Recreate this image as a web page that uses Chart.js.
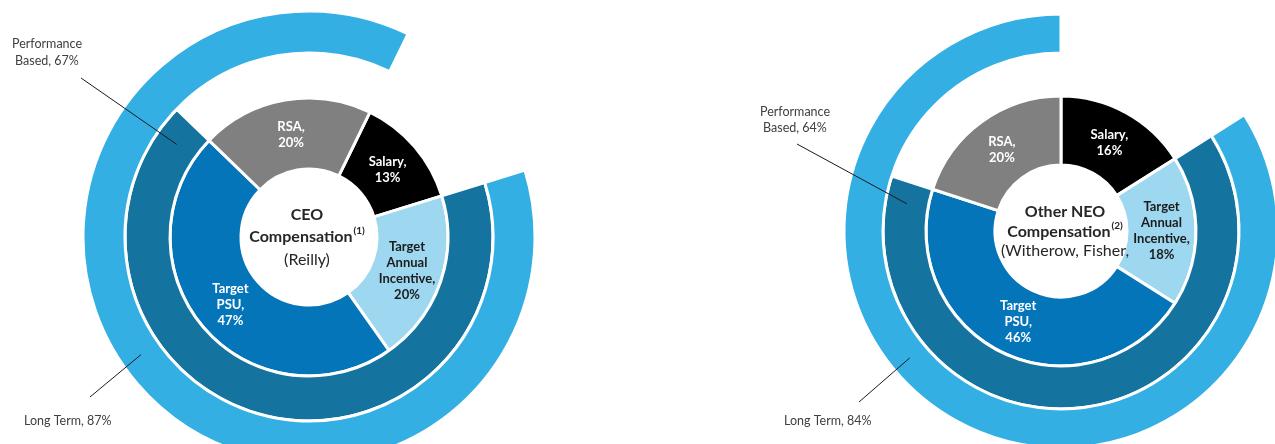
<!DOCTYPE html>
<html>
<head>
<meta charset="utf-8">
<script src="https://cdn.jsdelivr.net/npm/chart.js@4"></script>
<style>
  html, body { margin: 0; padding: 0; background: #fff; overflow: hidden; width: 1275px; height: 444px; }
  .wrap { position: absolute; top: 0; }
  #ceoWrap { left: 0; }
  #neoWrap { left: 640px; }
</style>
</head>
<body>
<div class="wrap" id="ceoWrap"><canvas id="ceo" width="620" height="470"></canvas></div>
<div class="wrap" id="neoWrap"><canvas id="neo" width="660" height="470"></canvas></div>
<script>
// pay mix, clockwise from the start of the salary slice
const segments = ['Salary', 'Target Annual Incentive', 'Target PSU', 'RSA'];
const segmentLines = [['Salary,'], ['Target', 'Annual', 'Incentive,'], ['Target', 'PSU,'], ['RSA,']];
const ceoMix = [13, 20, 47, 20];
const neoMix = [16, 18, 46, 20];
const ceoPerformance = 67;
const neoPerformance = 64;
const ceoLongTerm = 87;
const neoLongTerm = 84;

const mixColors = ['#000000', '#9dd7f0', '#0575ba', '#808080'];
const mixText = ['#ffffff', '#1c1c1c', '#ffffff', '#ffffff'];
const tealColor = '#14739f';
const longColor = '#33afe4';
const none = 'rgba(0,0,0,0)';

const ringText = {
  id: 'ringText',
  afterDatasetsDraw(chart, args, opts) {
    const ctx = chart.ctx;
    const area = chart.chartArea;
    const cx = (area.left + area.right) / 2;
    const cy = (area.top + area.bottom) / 2;
    ctx.save();
    ctx.textAlign = 'center';
    ctx.textBaseline = 'middle';

    // labels inside the pay mix ring
    const pie = chart.getDatasetMeta(2);
    const values = chart.data.datasets[2].data;
    ctx.font = 'bold 13px Lato';
    pie.data.forEach((arc, i) => {
      const p = arc.tooltipPosition();
      const lines = segmentLines[i].concat([values[i] + '%']);
      const lh = 16;
      ctx.fillStyle = mixText[i];
      lines.forEach((t, j) => {
        ctx.fillText(t, p.x, p.y + (j - (lines.length - 1) / 2) * lh);
      });
    });

    // title in the hole
    ctx.fillStyle = '#262626';
    opts.center.forEach(row => {
      ctx.font = (row.bold ? 'bold ' : '') + '16px Lato';
      const w = ctx.measureText(row.text).width;
      let sw = 0;
      if (row.sup) {
        ctx.font = 'bold 10px Lato';
        sw = ctx.measureText(row.sup).width + 1;
      }
      const x0 = cx + opts.centerDx - (w + sw) / 2;
      ctx.textAlign = 'left';
      ctx.font = (row.bold ? 'bold ' : '') + '16px Lato';
      ctx.fillText(row.text, x0, cy + row.dy);
      if (row.sup) {
        ctx.font = 'bold 10px Lato';
        ctx.fillText(row.sup, x0 + w + 1, cy + row.dy - 6);
      }
    });

    // callouts for the outer rings
    ctx.font = '12.5px Lato';
    opts.callouts.forEach(c => {
      const arc = chart.getDatasetMeta(c.ring).data[1];
      const r = (arc.innerRadius + arc.outerRadius) / 2;
      const a = c.angle * Math.PI / 180;
      ctx.strokeStyle = '#1a1a1a';
      ctx.lineWidth = 1;
      ctx.beginPath();
      ctx.moveTo(c.from[0], c.from[1]);
      ctx.lineTo(cx + r * Math.sin(a), cy - r * Math.cos(a));
      ctx.stroke();
      ctx.fillStyle = '#404040';
      ctx.textAlign = c.align;
      c.text.forEach((t, j) => ctx.fillText(t, c.x, c.y[j]));
    });
    ctx.restore();
  }
};

function makeChart(id, mix, performance, longTerm, cfg) {
  const salary = mix[0];
  return new Chart(document.getElementById(id), {
    type: 'doughnut',
    data: {
      labels: segments,
      datasets: [
        {
          label: 'Long Term',
          data: [salary, longTerm],
          backgroundColor: [none, longColor],
          borderColor: '#ffffff',
          borderWidth: [0, 3],
          weight: cfg.weights[0]
        },
        {
          label: 'Performance Based',
          data: [salary, performance, 100 - salary - performance],
          backgroundColor: [none, tealColor, none],
          borderColor: '#ffffff',
          borderWidth: [0, 3, 0],
          weight: cfg.weights[1]
        },
        {
          label: 'Pay Mix',
          data: mix,
          backgroundColor: mixColors,
          borderColor: '#ffffff',
          borderWidth: 3,
          weight: cfg.weights[2]
        }
      ]
    },
    options: {
      responsive: false,
      animation: false,
      events: [],
      rotation: cfg.rotation,
      radius: cfg.radius,
      cutout: (cfg.hole / cfg.radius * 100) + '%',
      layout: { padding: cfg.padding },
      plugins: {
        legend: { display: false },
        tooltip: { enabled: false },
        ringText: { center: cfg.center, centerDx: cfg.centerDx, callouts: cfg.callouts }
      }
    },
    plugins: [ringText]
  });
}

makeChart('ceo', ceoMix, ceoPerformance, ceoLongTerm, {
  rotation: 26,
  radius: 226,
  hole: 68,
  weights: [42, 45, 71],
  padding: { left: 83, top: 11, right: 85, bottom: 7 },
  centerDx: -2,
  center: [
    { text: 'CEO', bold: true, dy: -22 },
    { text: 'Compensation', sup: '(1)', bold: true, dy: 0 },
    { text: '(Reilly)', dy: 23 }
  ],
  callouts: [
    { ring: 1, angle: 305, from: [81, 78], text: ['Performance', 'Based, ' + ceoPerformance + '%'], x: 47, y: [44, 61], align: 'center' },
    { ring: 0, angle: 235, from: [90, 397], text: ['Long Term, ' + ceoLongTerm + '%'], x: 24, y: [421], align: 'left' }
  ]
});

makeChart('neo', neoMix, neoPerformance, neoLongTerm, {
  rotation: 0,
  radius: 217,
  hole: 66,
  weights: [39, 43, 69],
  padding: { left: 204, top: 14, right: 22, bottom: 22 },
  centerDx: 4,
  center: [
    { text: 'Other NEO', bold: true, dy: -19 },
    { text: 'Compensation', sup: '(2)', bold: true, dy: 1 },
    { text: '(Witherow, Fisher,', dy: 20 }
  ],
  callouts: [
    { ring: 1, angle: 280, from: [157, 144], text: ['Performance', 'Based, ' + neoPerformance + '%'], x: 155, y: [112, 128], align: 'center' },
    { ring: 0, angle: 230, from: [219, 402], text: ['Long Term, ' + neoLongTerm + '%'], x: 144, y: [421], align: 'left' }
  ]
});
</script>
</body>
</html>
